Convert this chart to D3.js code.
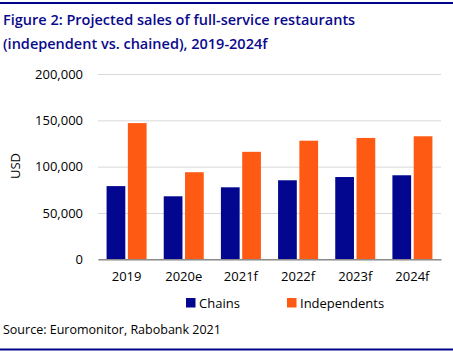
<!DOCTYPE html>
<html><head><meta charset="utf-8">
<script src="https://cdn.jsdelivr.net/npm/d3@7"></script>
<style>body{margin:0;background:#fff;} svg{display:block;font-family:"Open Sans",sans-serif;}</style>
</head><body>
<svg id="c" width="453" height="357"></svg>
<script>
const categories = ["2019","2020e","2021f","2022f","2023f","2024f"];
const chains = [79000, 68000, 77700, 85300, 88800, 90700];
const independents = [147000, 94000, 116000, 128000, 131000, 132800];
const seriesNames = ["Chains","Independents"];
const yTicks = [0, 50000, 100000, 150000, 200000];

const colors = {Chains:"#03078F", Independents:"#FF5A14"};
const svg = d3.select("#c");
const W = 453;
const m = {l:98, r:441, t:74, b:259.3};

svg.append("rect").attr("x",0).attr("y",2).attr("width",W).attr("height",2).attr("fill","#00038C");
svg.append("rect").attr("x",0).attr("y",348.5).attr("width",W).attr("height",2).attr("fill","#00038C");

const title = svg.append("text").attr("fill","#0A0A8C").attr("font-size",14.5).attr("font-weight",600);
title.append("tspan").attr("x",3).attr("y",25).text("Figure 2: Projected sales of full-service restaurants");
title.append("tspan").attr("x",3).attr("y",49).text("(independent vs. chained), 2019-2024f");

const x0 = d3.scaleBand().domain(categories).range([m.l, m.r]).paddingInner(0.3).paddingOuter(0.15);
const x1 = d3.scaleBand().domain(seriesNames).range([0, x0.bandwidth()]).paddingInner(0.12);
const y = d3.scaleLinear().domain([0,200000]).range([m.b, m.t]);

const fmt = d3.format(",");
const yAxis = svg.append("g").attr("transform",`translate(${m.l},0)`)
  .call(d3.axisLeft(y).tickValues(yTicks).tickSize(-(m.r-m.l)).tickFormat(fmt).tickPadding(15));
yAxis.select(".domain").remove();
yAxis.selectAll(".tick line").attr("stroke","#d9d9d9").attr("stroke-width",1);
yAxis.selectAll(".tick text").attr("font-size",13).attr("fill","#000").attr("font-family","Open Sans");

const data = categories.map((c,i)=>({cat:c, vals:[{k:"Chains",v:chains[i]},{k:"Independents",v:independents[i]}]}));
const g = svg.append("g");
g.selectAll("g").data(data).join("g").attr("transform",d=>`translate(${x0(d.cat)},0)`)
  .selectAll("rect").data(d=>d.vals).join("rect")
  .attr("x",d=>x1(d.k)).attr("width",x1.bandwidth())
  .attr("y",d=>y(d.v)).attr("height",d=>y(0)-y(d.v))
  .attr("fill",d=>colors[d.k]);

const xAxis = svg.append("g").attr("transform",`translate(0,${m.b})`)
  .call(d3.axisBottom(x0).tickSize(0).tickPadding(12));
xAxis.select(".domain").attr("stroke","#8c8c8c").attr("stroke-width",1.5);
xAxis.selectAll(".tick text").attr("font-size",13).attr("fill","#000").attr("font-family","Open Sans");

svg.append("text").attr("transform","translate(20,166) rotate(-90)").attr("text-anchor","middle")
  .attr("font-size",13).attr("fill","#000").text("USD");

const legX = [186, 287];
const leg = svg.append("g");
seriesNames.forEach((s,i)=>{
  leg.append("rect").attr("x",legX[i]).attr("y",298).attr("width",9.5).attr("height",9.5).attr("fill",colors[s]);
  leg.append("text").attr("x",legX[i]+13).attr("y",307.5).attr("font-size",13).attr("fill","#000").text(s);
});

svg.append("text").attr("x",3).attr("y",334).attr("font-size",12.5).attr("fill","#000").text("Source: Euromonitor, Rabobank 2021");
</script>
</body></html>
